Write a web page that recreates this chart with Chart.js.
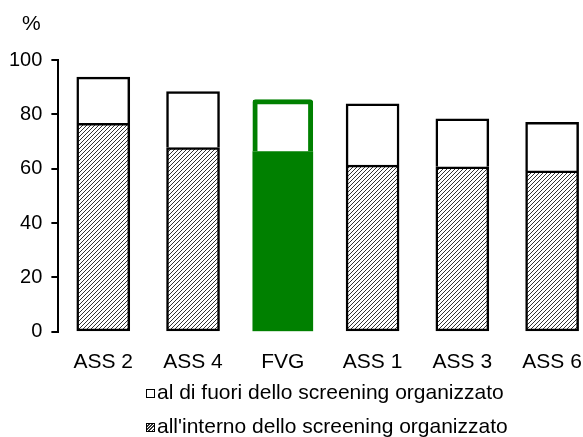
<!DOCTYPE html>
<html>
<head>
<meta charset="utf-8">
<script src="https://cdn.jsdelivr.net/npm/chart.js"></script>
<style>
  html, body { margin: 0; padding: 0; background: #fff; overflow: hidden; }
  #wrap { position: relative; width: 600px; height: 437px; }
  #legend {
    position: absolute; left: 146px; top: 381px;
    font: 21px 'Liberation Sans', Arial, sans-serif; color: #000;
  }
  #legend div { height: 34px; line-height: 21px; white-space: nowrap; }
  #legend span.box {
    display: inline-block; width: 7px; height: 7px; border: 1.5px solid #000;
    margin-right: 2px; vertical-align: 1px; background: #fff;
  }
  #legend span.hatch {
    background: repeating-linear-gradient(135deg, #fff 0 1.2px, #333 1.2px 2.2px);
  }
</style>
</head>
<body>
<div id="wrap">
  <canvas id="barChart"></canvas>
  <div id="legend"></div>
</div>
<script>
const categories = ["ASS 2", "ASS 4", "FVG", "ASS 1", "ASS 3", "ASS 6"];
const inside = [76.7, 67.8, 66.3, 61.3, 60.7, 59.2];
const outside = [17.0, 20.6, 19.1, 22.6, 17.7, 17.9];
const yTicks = [0, 20, 40, 60, 80, 100];
const legendLabels = ["al di fuori dello screening organizzato", "all'interno dello screening organizzato"];
const highlight = "FVG";

Chart.defaults.font.family = "'Liberation Sans', Arial, sans-serif";
Chart.defaults.font.size = 21;
Chart.defaults.color = "#000";

// diagonal hatch
const pc = document.createElement("canvas");
pc.width = 4; pc.height = 4;
const p = pc.getContext("2d");
p.fillStyle = "#fff";
p.fillRect(0, 0, 4, 4);
p.strokeStyle = "#333";
p.lineWidth = 1;
p.beginPath();
p.moveTo(-1, 5); p.lineTo(5, -1);
p.moveTo(-1, 1); p.lineTo(1, -1);
p.moveTo(3, 5); p.lineTo(5, 3);
p.stroke();
const hatch = p.createPattern(pc, "repeat");

const hi = categories.indexOf(highlight);
const only = (arr, keep) => arr.map((v, i) => (i === hi) === keep ? v : null);

// legend below the axis, one entry per line
document.getElementById("legend").innerHTML = legendLabels.map((t, i) =>
  '<div><span class="box' + (i === 1 ? ' hatch' : '') + '"></span>' + t + '</div>').join("");

const percentLabel = {
  id: "percentLabel",
  afterDraw(chart) {
    const ctx = chart.ctx;
    ctx.save();
    ctx.font = "21px 'Liberation Sans', Arial, sans-serif";
    ctx.fillStyle = "#000";
    ctx.textAlign = "center";
    ctx.textBaseline = "middle";
    ctx.fillText("%", chart.chartArea.left - 27, chart.chartArea.top - 36);
    ctx.restore();
  }
};

new Chart(document.getElementById("barChart"), {
  type: "bar",
  data: {
    labels: categories,
    datasets: [
      {
        label: legendLabels[1],
        data: only(inside, false),
        backgroundColor: hatch,
        borderColor: "#000",
        borderWidth: 2.5,
        borderSkipped: false,
        barThickness: 53
      },
      {
        label: legendLabels[0],
        data: only(outside, false),
        backgroundColor: "#fff",
        borderColor: "#000",
        borderWidth: 2.5,
        barThickness: 53
      },
      {
        label: highlight + " in",
        data: only(inside, true),
        backgroundColor: "#008000",
        borderWidth: 0,
        borderRadius: 3,
        barThickness: 60
      },
      {
        label: highlight + " out",
        data: only(outside, true),
        backgroundColor: "#fff",
        borderColor: "#008000",
        borderWidth: 5,
        borderRadius: 3,
        barThickness: 60
      }
    ]
  },
  options: {
    responsive: true,
    maintainAspectRatio: false,
    animation: false,
    layout: { padding: { top: 60, left: 0, right: 3, bottom: 52 } },
    plugins: {
      tooltip: { enabled: false },
      legend: { display: false }
    },
    scales: {
      x: {
        stacked: true,
        grid: { display: false },
        border: { display: false },
        ticks: { padding: 10 }
      },
      y: {
        stacked: true,
        min: 0,
        max: 100,
        afterBuildTicks: s => { s.ticks = yTicks.map(v => ({ value: v })); },
        grid: { drawOnChartArea: false, drawTicks: true, tickLength: 7, color: "#000", lineWidth: 2 },
        border: { display: true, color: "#000", width: 2 },
        ticks: { padding: 9, font: { size: 20 } }
      }
    }
  },
  plugins: [percentLabel]
});
</script>
</body>
</html>
